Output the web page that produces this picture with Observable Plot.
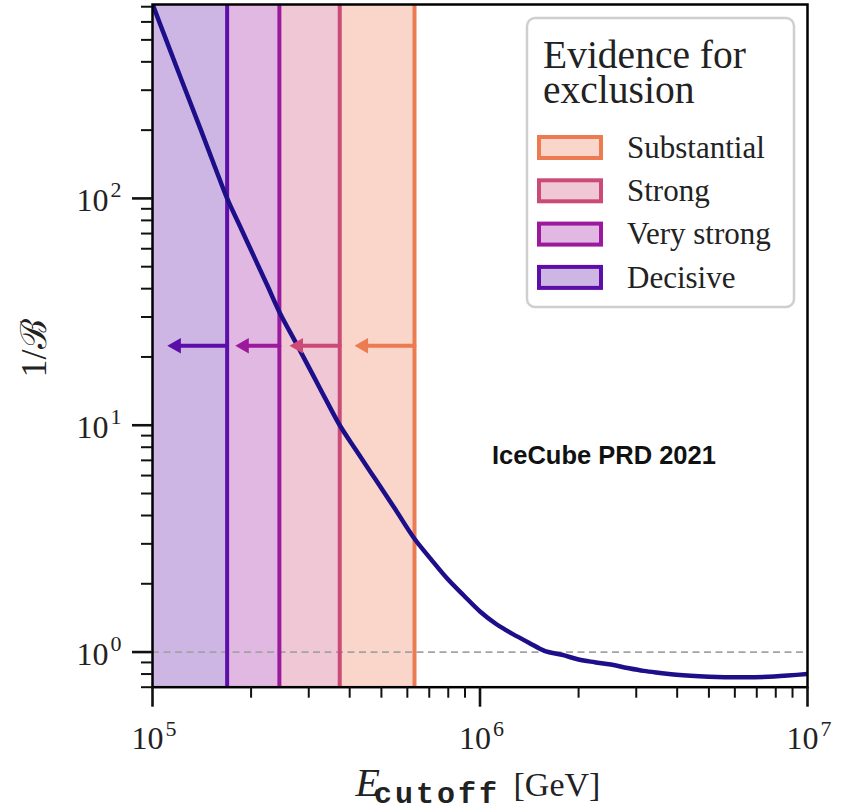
<!DOCTYPE html>
<html>
<head>
<meta charset="utf-8">
<script src="https://cdn.jsdelivr.net/npm/d3@7"></script>
<script src="https://cdn.jsdelivr.net/npm/@observablehq/plot@0.6"></script>
<style>
  body { margin: 0; background: #fff; }
  #chart { width: 845px; }
</style>
</head>
<body>
<div id="chart"></div>
<script>
// Inverse Bayes factor as a function of the spectral cutoff energy (GeV)
const energy = [
  1.00e5, 1.10e5, 1.25e5, 1.40e5, 1.55e5, 1.69e5, 1.85e5, 2.05e5, 2.25e5, 2.44e5,
  2.75e5, 3.10e5, 3.40e5, 3.73e5, 4.20e5, 4.80e5, 5.50e5, 6.31e5, 7.08e5, 7.94e5,
  8.91e5, 1.00e6, 1.12e6, 1.20e6, 1.26e6, 1.41e6, 1.58e6, 1.78e6, 2.00e6, 2.24e6,
  2.51e6, 2.82e6, 3.16e6, 3.55e6, 3.98e6, 5.00e6, 5.60e6, 6.30e6, 7.90e6, 1.00e7
];
const invBayes = [
  720, 501, 310, 203, 138, 100, 75.4, 54.7, 40.9, 31.6,
  22.9, 16.5, 12.8, 10.0, 7.70, 5.76, 4.28, 3.16, 2.57, 2.11,
  1.78, 1.51, 1.33, 1.25, 1.20, 1.10, 1.01, 0.973, 0.927, 0.902,
  0.881, 0.851, 0.826, 0.809, 0.794, 0.778, 0.774, 0.774, 0.780, 0.800
];

// Jeffreys-scale evidence levels and the cutoff energy below which each applies
const levels = ["Substantial", "Strong", "Very strong", "Decisive"];
const cutoffEnergy = [6.31e5, 3.73e5, 2.44e5, 1.69e5];
const arrowTip = [4.14e5, 2.62e5, 1.79e5, 1.11e5];
const arrowLevel = 22.4;

const xTicks = [1e5, 1e6, 1e7];
const xExponents = ["5", "6", "7"];
const yTicks = [1, 10, 100];
const yExponents = ["0", "1", "2"];

const annotation = [{x: 2.39e6, y: 7.33, text: "IceCube PRD 2021"}];

// styling
const levelColors = ["#ec7b52", "#cc4a78", "#9c199e", "#5c0fa8"];
const curveColor = "#1d0f8a";
const serif = "'Liberation Serif', 'Times New Roman', serif";

const W = 845, H = 811;
const margin = {left: 152, right: 38, top: 4, bottom: 124.3};
const frameW = W - margin.left - margin.right;
const frameH = H - margin.top - margin.bottom;

const xMin = 1e5, xMax = 1e7;
const minorX = [];
for (let k = 5; k < 7; ++k) for (let m = 2; m <= 9; ++m) minorX.push(m * 10 ** k);
const minorY = [];
for (let k = -1; k < 3; ++k) for (let m = 2; m <= 9; ++m) {
  const v = m * 10 ** k;
  if (v >= 0.7 && v <= 716) minorY.push(v);
}

const bands = levels.map((level, i) => ({
  level,
  x1: i < levels.length - 1 ? cutoffEnergy[i + 1] : xMin,
  x2: cutoffEnergy[i]
}));
const curve = energy.map((e, i) => ({e, v: invBayes[i]}));
const arrows = levels.map((level, i) => ({level, from: cutoffEnergy[i], to: arrowTip[i], y: arrowLevel}));

// outward tick marks: rules confined to a strip just outside the frame
const xTickMarks = (ticks, size, width) =>
  Plot.ruleX(ticks, {x: d => d, insetTop: frameH, insetBottom: -size, stroke: "#111", strokeWidth: width});
const yTickMarks = (ticks, size, width) =>
  Plot.ruleY(ticks, {y: d => d, insetRight: frameW, insetLeft: -size, stroke: "#111", strokeWidth: width});

const plot = Plot.plot({
  width: W,
  height: H,
  marginLeft: margin.left,
  marginRight: margin.right,
  marginTop: margin.top,
  marginBottom: margin.bottom,
  style: {fontFamily: serif, background: "white", overflow: "visible"},
  x: {type: "log", domain: [xMin, xMax], axis: null},
  y: {type: "log", domain: [0.70, 716], axis: null},
  color: {domain: levels, range: levelColors},
  marks: [
    Plot.rect(bands, {x1: "x1", x2: "x2", fill: "level", fillOpacity: 0.31}),
    Plot.ruleY([1], {stroke: "#a3a3a3", strokeWidth: 1.7, strokeDasharray: "7,4.5"}),
    Plot.ruleX(bands, {x: "x2", stroke: "level", strokeWidth: 4}),
    Plot.line(curve, {x: "e", y: "v", stroke: curveColor, strokeWidth: 4.5, curve: "catmull-rom", clip: true}),
    Plot.arrow(arrows, {x1: "from", y1: "y", x2: "to", y2: "y", stroke: "level", strokeWidth: 4, headLength: 0, insetEnd: 10}),
    Plot.dot(arrows, {x: "to", y: "y", symbol: "triangle", rotate: -90, fill: "level", r: 5.8, dx: 9}),
    Plot.text(annotation, {
      x: "x", y: "y", text: "text", fontFamily: "'Liberation Sans', Arial, sans-serif",
      fontWeight: "bold", fontSize: 25.5, fill: "#111", textAnchor: "middle", lineAnchor: "middle"
    }),
    Plot.frame({stroke: "black", strokeWidth: 2.5}),

    // major (long) and minor (short) ticks
    xTickMarks(xTicks, 20, 2.6),
    xTickMarks(minorX, 11, 2),
    yTickMarks(yTicks, 20, 2.6),
    yTickMarks(minorY, 11, 2),

    // tick labels as 10^k
    Plot.text(xTicks, {x: d => d, frameAnchor: "bottom", text: () => "10", textAnchor: "end",
      lineAnchor: "bottom", dx: 11, dy: 61.3, fontSize: 32, fill: "#222"}),
    Plot.text(xTicks, {x: d => d, frameAnchor: "bottom", text: (d, i) => xExponents[i], textAnchor: "start",
      lineAnchor: "bottom", dx: 13, dy: 48.3, fontSize: 22, fill: "#222"}),
    Plot.text(yTicks, {y: d => d, frameAnchor: "left", text: () => "10", textAnchor: "end",
      lineAnchor: "bottom", dx: -44, dy: 12.5, fontSize: 32, fill: "#222"}),
    Plot.text(yTicks, {y: d => d, frameAnchor: "left", text: (d, i) => yExponents[i], textAnchor: "end",
      lineAnchor: "bottom", dx: -31, dy: -1, fontSize: 22, fill: "#222"}),

    // axis titles
    Plot.text(["E"], {frameAnchor: "bottom", text: d => d, textAnchor: "start", lineAnchor: "bottom",
      dx: -124.5, dy: 108.3, fontSize: 40, fontStyle: "italic", fill: "#222"}),
    Plot.text(["cutoff"], {frameAnchor: "bottom", text: d => d, textAnchor: "start", lineAnchor: "bottom",
      dx: -106, dy: 115.5, fontSize: 30, fontWeight: "bold", fontFamily: "'Liberation Mono', monospace",
      fill: "#222"}),
    Plot.text(["[GeV]"], {frameAnchor: "bottom", text: d => d, textAnchor: "start", lineAnchor: "bottom",
      dx: 33.5, dy: 108.3, fontSize: 34, fill: "#222"}),
    Plot.text(["1/\u212C"], {frameAnchor: "left", text: d => d, textAnchor: "middle", lineAnchor: "middle",
      rotate: -90, dx: -118, dy: 2.6, fontSize: 36, fill: "#222"})
  ]
});

const svg = d3.select(plot);

// typewriter subscript gets wider letter spacing
svg.selectAll("text").filter(function() { return this.textContent === "cutoff"; })
  .attr("letter-spacing", "3px");

// legend drawn inside the plot frame, upper right
const legend = svg.append("g").attr("font-family", serif).attr("fill", "#222").attr("text-anchor", "start");
legend.append("rect")
  .attr("x", 527).attr("y", 18).attr("width", 267).attr("height", 289).attr("rx", 8)
  .attr("fill", "white").attr("fill-opacity", 0.85)
  .attr("stroke", "#cfcfcf").attr("stroke-width", 2.5);
legend.append("text").attr("x", 543).attr("y", 68).attr("font-size", 39.5).text("Evidence for");
legend.append("text").attr("x", 543).attr("y", 103).attr("font-size", 39.5).text("exclusion");
const item = legend.selectAll("g.item").data(levels).join("g")
  .attr("transform", (d, i) => `translate(0,${147.5 + 43.3 * i})`);
item.append("rect")
  .attr("x", 539).attr("y", -10.5).attr("width", 62).attr("height", 21)
  .attr("fill", (d, i) => levelColors[i]).attr("fill-opacity", 0.31)
  .attr("stroke", (d, i) => levelColors[i]).attr("stroke-width", 4);
item.append("text").attr("x", 627).attr("dy", "0.33em").attr("font-size", 31).text(d => d);

document.getElementById("chart").append(plot);
</script>
</body>
</html>
